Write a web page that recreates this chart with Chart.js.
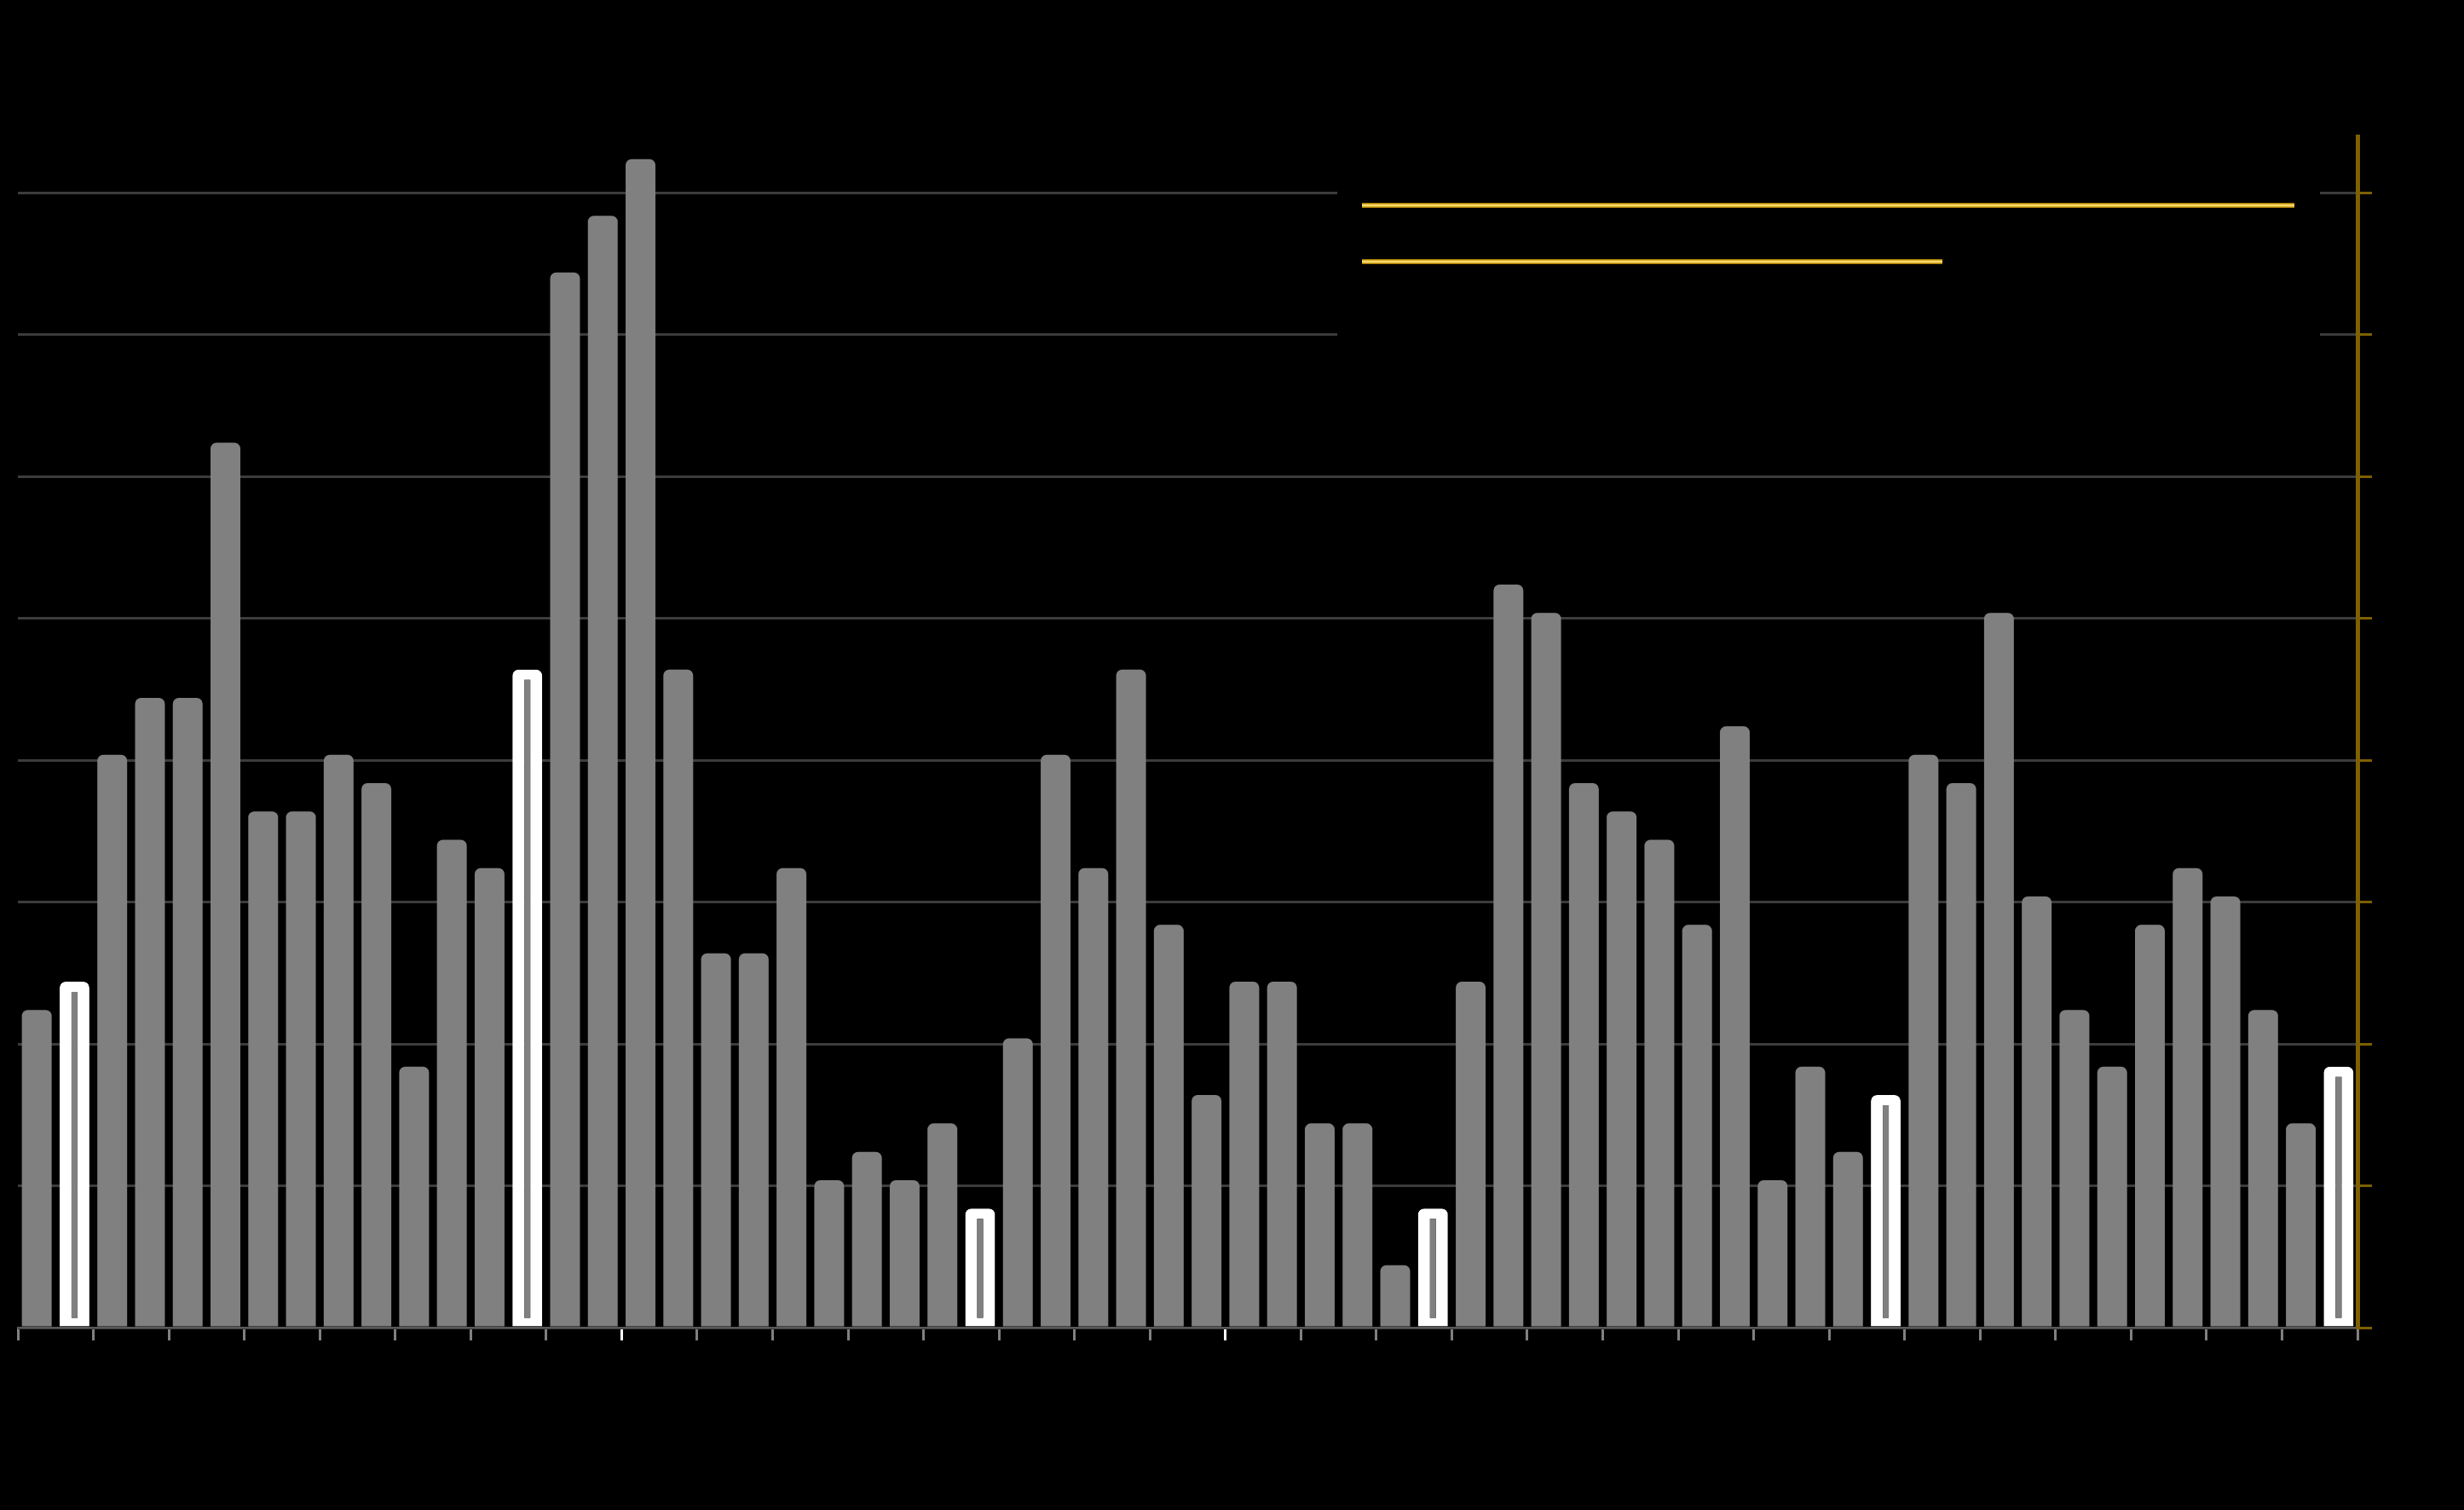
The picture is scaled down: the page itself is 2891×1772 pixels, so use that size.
<!DOCTYPE html>
<html>
<head>
<meta charset="utf-8">
<script src="https://cdn.jsdelivr.net/npm/chart.js@4.4.1/dist/chart.umd.min.js"></script>
<style>
  html, body { margin: 0; padding: 0; background: #000; }
  canvas { display: block; }
</style>
</head>
<body>
<canvas id="barChart" width="2891" height="1772"></canvas>
<script>
// categories (no readable labels in the picture, so plain periods)
const periods = [
  '1', '2', '3', '4', '5', '6', '7', '8', '9', '10', '11', '12',
  '13', '14', '15', '16', '17', '18', '19', '20', '21', '22', '23', '24',
  '25', '26', '27', '28', '29', '30', '31', '32', '33', '34', '35', '36',
  '37', '38', '39', '40', '41', '42', '43', '44', '45', '46', '47', '48',
  '49', '50', '51', '52', '53', '54', '55', '56', '57', '58', '59', '60',
  '61', '62'
];

// bar values (tops sit a little above the grid steps)
const counts = [
  11.2, 12.2, 20.2, 22.2, 22.2, 31.2, 18.2, 18.2, 20.2, 19.2, 9.2, 17.2,
  16.2, 23.2, 37.2, 39.2, 41.2, 23.2, 13.2, 13.2, 16.2, 5.2, 6.2, 5.2,
  7.2, 4.2, 10.2, 20.2, 16.2, 23.2, 14.2, 8.2, 12.2, 12.2, 7.2, 7.2,
  2.2, 4.2, 12.2, 26.2, 25.2, 19.2, 18.2, 17.2, 14.2, 21.2, 5.2, 9.2,
  6.2, 8.2, 20.2, 19.2, 25.2, 15.2, 11.2, 9.2, 14.2, 16.2, 15.2, 11.2,
  7.2, 9.2
];

// bars drawn with the white outline
const highlightIdx = [1, 13, 25, 37, 49, 61];

// y axis
const yMax = 42;
const yStep = 5;

const barGray = '#808080';
const gold = '#7f6000';

// black legend box with the two gold lines
const legendBoxPlugin = {
  id: 'legendBox',
  afterDatasetsDraw(chart) {
    const { ctx, chartArea } = chart;
    const left = chartArea.left + 1548;
    const top = chartArea.top + 25;
    ctx.save();
    ctx.fillStyle = '#000';
    ctx.fillRect(left, top, 1153, 240);
    const lines = [[81, 1123], [147, 710]];
    [[6, '#a67c00'], [3, '#ffd966']].forEach(([w, col]) => {
      ctx.lineWidth = w;
      ctx.strokeStyle = col;
      ctx.beginPath();
      lines.forEach(([dy, end]) => {
        ctx.moveTo(left + 29, chartArea.top + dy);
        ctx.lineTo(left + end, chartArea.top + dy);
      });
      ctx.stroke();
    });
    ctx.restore();
  }
};

const ctx = document.getElementById('barChart').getContext('2d');
new Chart(ctx, {
  type: 'bar',
  data: {
    labels: periods,
    datasets: [{
      label: 'Count',
      data: counts,
      backgroundColor: barGray,
      borderColor: '#ffffff',
      borderWidth: c => highlightIdx.includes(c.dataIndex)
        ? { top: 12, left: 14, right: 14, bottom: 10 } : 0,
      borderSkipped: false,
      borderRadius: { topLeft: 7, topRight: 7, bottomLeft: 0, bottomRight: 0 },
      barPercentage: 0.79,
      categoryPercentage: 1
    }]
  },
  plugins: [legendBoxPlugin],
  options: {
    responsive: false,
    animation: false,
    layout: {
      padding: { left: 21, right: 108, top: 160, bottom: 199 }
    },
    plugins: {
      legend: { display: false },
      tooltip: { enabled: false }
    },
    scales: {
      x: {
        ticks: { display: false },
        grid: {
          drawOnChartArea: false,
          drawTicks: true,
          tickLength: 15,
          tickWidth: 3,
          tickColor: c => {
            if (c.index === undefined) return '#808080';
            if (c.index === 16 || c.index === 32) return '#ffffff';
            return c.index % 2 === 0 ? '#808080' : 'rgba(0,0,0,0)';
          }
        },
        border: { display: true, color: '#595959', width: 2 }
      },
      y: {
        position: 'right',
        min: 0,
        max: yMax,
        ticks: { display: false, stepSize: yStep },
        grid: {
          color: c => c.tick && c.tick.value === yMax ? 'rgba(0,0,0,0)' : '#3c3c3c',
          lineWidth: 3,
          drawTicks: true,
          tickLength: 17,
          tickWidth: 3,
          tickColor: c => c.tick && c.tick.value === yMax ? 'rgba(0,0,0,0)' : gold
        },
        border: { display: true, color: gold, width: 5 }
      }
    }
  }
});
</script>
</body>
</html>
